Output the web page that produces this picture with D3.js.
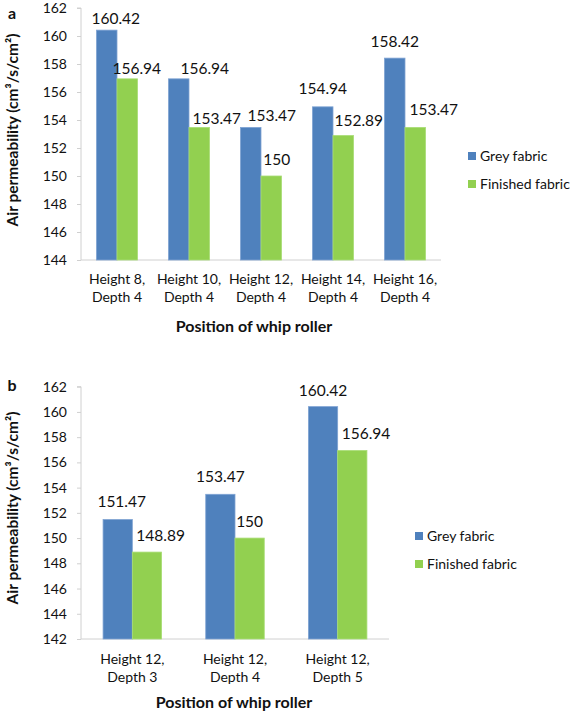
<!DOCTYPE html>
<html>
<head>
<meta charset="utf-8">
<script src="https://cdn.jsdelivr.net/npm/d3@7"></script>
<style>
  html, body { margin: 0; padding: 0; background: #fff; }
  svg { display: block; }
  text { font-family: Lato, "Open Sans", sans-serif; fill: #111; }
</style>
</head>
<body>
<svg id="chart" width="572" height="712"></svg>
<script>
// ---- data ----
const seriesNames = ["Grey fabric", "Finished fabric"];
const seriesColors = ["#4F81BD", "#92D050"];

const categoriesA = ["Height 8, Depth 4", "Height 10, Depth 4", "Height 12, Depth 4", "Height 14, Depth 4", "Height 16, Depth 4"];
const greyA = [160.42, 156.94, 153.47, 154.94, 158.42];
const finishedA = [156.94, 153.47, 150, 152.89, 153.47];
const ticksA = [144, 146, 148, 150, 152, 154, 156, 158, 160, 162];

const categoriesB = ["Height 12, Depth 3", "Height 12, Depth 4", "Height 12, Depth 5"];
const greyB = [151.47, 153.47, 160.42];
const finishedB = [148.89, 150, 156.94];
const ticksB = [142, 144, 146, 148, 150, 152, 154, 156, 158, 160, 162];

const xTitle = "Position of whip roller";
const yTitle = "Air permeability (cm³/s/cm²)";

// ---- layout (label nudges, in px: [dx from bar centre, gap above bar top]) ----
const labelNudgeA = [
  [[9, 12], [9.5, 10]],
  [[26, 10], [17.5, 9]],
  [[21, 12], [5.5, 17]],
  [[0, 18], [15.5, 15]],
  [[0, 17], [18.5, 18]]
];
const labelNudgeB = [
  [[4, 17.7], [13.7, 17]],
  [[0, 17.5], [0, 17]],
  [[0, 16.6], [13.7, 17.5]]
];

const svg = d3.select("#chart");

function panel(opts) {
  const g = svg.append("g");
  const y = d3.scaleLinear().domain([opts.ticks[0], opts.ticks[opts.ticks.length - 1]])
    .range([opts.yBottom, opts.yTop]);
  const x0 = d3.scaleBand().domain(opts.categories).range([opts.xLeft, opts.xRight])
    .paddingInner(0.43).paddingOuter(0.215);
  const x1 = d3.scaleBand().domain([0, 1]).range([0, x0.bandwidth()]);

  // y axis
  const yAxis = d3.axisLeft(y).tickValues(opts.ticks).tickSize(4).tickPadding(10).tickFormat(d3.format("d"));
  const ya = g.append("g").attr("transform", `translate(${opts.xLeft},0)`).call(yAxis);
  ya.select(".domain").attr("stroke", "#D0D0D0").attr("d", `M-4,${opts.yTop}H0V${opts.yBottom}`);
  ya.selectAll(".tick line").attr("stroke", "#D0D0D0");
  ya.selectAll(".tick text").style("font-size", "14px").attr("fill", "#111")
    .style("font-family", "Lato, sans-serif");

  // x axis line
  g.append("line").attr("x1", opts.xLeft).attr("x2", opts.xRight)
    .attr("y1", y(opts.ticks[0])).attr("y2", y(opts.ticks[0]))
    .attr("stroke", "#D0D0D0").attr("stroke-width", 1);

  const vals = [opts.grey, opts.finished];
  const rows = [];
  opts.categories.forEach((c, i) => {
    [0, 1].forEach(s => rows.push({ c, i, s, v: vals[s][i] }));
  });

  // bars
  g.selectAll("rect.bar").data(rows).join("rect")
    .attr("class", "bar")
    .attr("x", d => x0(d.c) + x1(d.s))
    .attr("width", x1.bandwidth())
    .attr("y", d => y(d.v))
    .attr("height", d => y(opts.ticks[0]) - y(d.v))
    .attr("fill", d => seriesColors[d.s])
    .attr("stroke", d => d.s === 0 ? "#7FA3D3" : "#A9DD75")
    .attr("stroke-width", 0.8);

  // value labels
  g.selectAll("text.val").data(rows).join("text")
    .attr("class", "val")
    .attr("x", d => x0(d.c) + x1(d.s) + x1.bandwidth() / 2 + opts.nudge[d.i][d.s][0])
    .attr("y", d => y(d.v) - opts.nudge[d.i][d.s][1])
    .attr("dy", "0.36em")
    .attr("text-anchor", "middle")
    .style("font-size", "15.5px")
    .text(d => String(d.v));

  // category labels
  opts.categories.forEach(c => {
    const parts = c.split(", ");
    const cx = x0(c) + x0.bandwidth() / 2;
    g.append("text").attr("x", cx).attr("y", y(opts.ticks[0]) + opts.catGap).attr("dy", "0.36em")
      .attr("text-anchor", "middle").style("font-size", "14px").text(parts[0] + ",");
    g.append("text").attr("x", cx).attr("y", y(opts.ticks[0]) + opts.catGap + 18).attr("dy", "0.36em")
      .attr("text-anchor", "middle").style("font-size", "14px").text(parts[1]);
  });

  // x title
  g.append("text").attr("x", opts.xTitleX).attr("y", opts.xTitleY).attr("dy", "0.36em")
    .attr("text-anchor", "middle").style("font-size", "16px").style("font-weight", "bold")
    .text(xTitle);

  // y title
  g.append("text").attr("transform", `translate(12,${opts.yTitleY}) rotate(-90)`)
    .attr("dy", "0.36em").attr("text-anchor", "middle")
    .style("font-size", "15.5px").style("font-weight", "bold").text(yTitle);

  // panel letter
  g.append("text").attr("x", 12).attr("y", opts.letterY).attr("dy", "0.36em")
    .attr("text-anchor", "middle").style("font-size", "16px").style("font-weight", "bold")
    .text(opts.letter);

  // legend
  seriesNames.forEach((n, s) => {
    const ly = opts.legendY + s * 28;
    g.append("rect").attr("x", opts.legendX).attr("y", ly - 4).attr("width", 8).attr("height", 8)
      .attr("fill", seriesColors[s]);
    g.append("text").attr("x", opts.legendX + 12).attr("y", ly).attr("dy", "0.36em")
      .style("font-size", "14px").text(n);
  });
}

panel({
  categories: categoriesA, grey: greyA, finished: finishedA, ticks: ticksA,
  xLeft: 81, xRight: 441, yTop: 8, yBottom: 260,
  nudge: labelNudgeA, catGap: 19,
  xTitleX: 254, xTitleY: 326, yTitleY: 130, letter: "a", letterY: 13,
  legendX: 468, legendY: 156
});

panel({
  categories: categoriesB, grey: greyB, finished: finishedB, ticks: ticksB,
  xLeft: 81, xRight: 389, yTop: 386.7, yBottom: 639,
  nudge: labelNudgeB, catGap: 20,
  xTitleX: 234, xTitleY: 702, yTitleY: 508, letter: "b", letterY: 385,
  legendX: 415, legendY: 536
});
</script>
</body>
</html>
